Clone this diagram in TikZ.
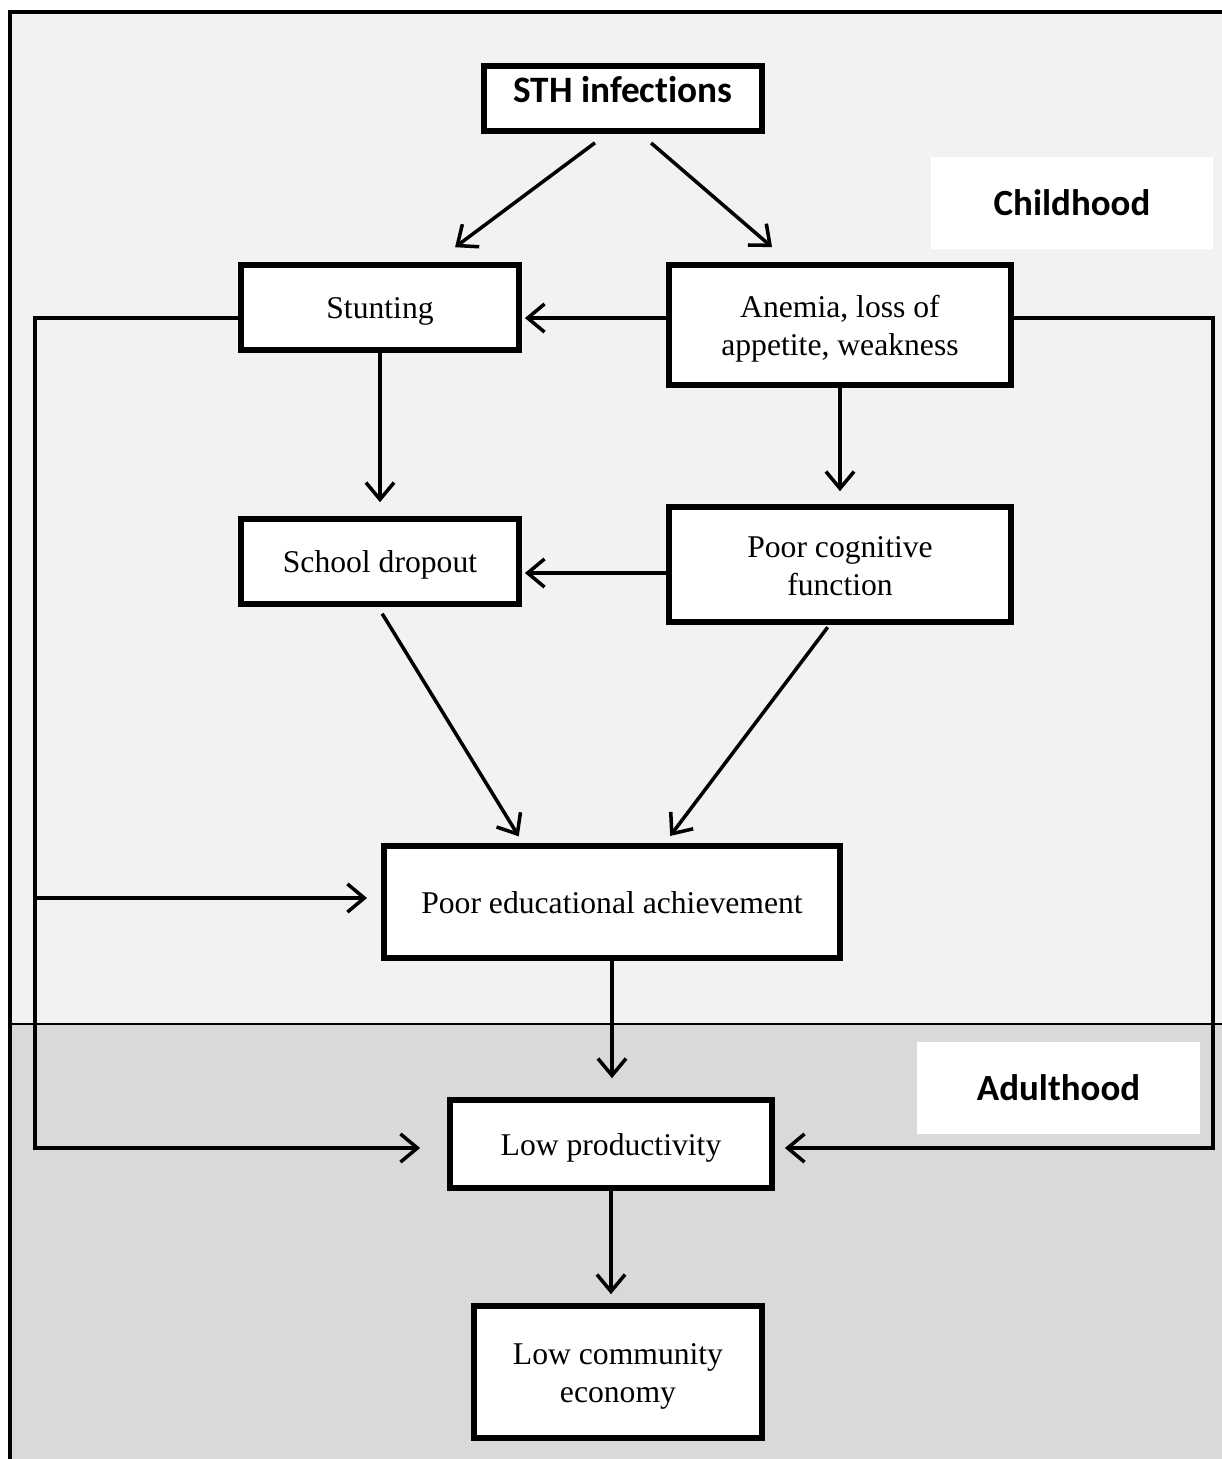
\documentclass[tikz,border=0pt]{standalone}
\usepackage{fontspec}
\setmainfont{Liberation Serif}
\newfontfamily\labelfont[Ligatures=NoCommon]{Carlito}
\usetikzlibrary{arrows.meta}
\definecolor{childgray}{HTML}{F2F2F2}
\definecolor{adultgray}{HTML}{D9D9D9}

\begin{document}
\begin{tikzpicture}[x=0.01cm,y=-0.01cm,
	box/.style={draw,line width=1.6pt,fill=white,align=center,inner sep=0pt,font=\fontsize{9}{10.8}\selectfont,text height=8pt,text depth=1.5pt},
	twoline/.style={text height=19.5pt,text depth=2pt},
	stage/.style={fill=white,inner sep=0pt,minimum width=2.82cm,minimum height=0.92cm,font=\labelfont\bfseries\fontsize{10.5}{12}\selectfont},
	arr/.style={line width=1pt,-{Straight Barb[length=4.8pt,width=8pt]}}]
	\useasboundingbox (0,0) rectangle (1222,1459);
	\fill[childgray] (10,12) rectangle (1240,1024); % childhood band
	\fill[adultgray] (10,1024) rectangle (1240,1480); % adulthood band
	\draw[line width=0.6pt] (10,1024) -- (1240,1024);
	\draw[line width=0.9pt] (10,1480) -- (10,12) -- (1240,12); %frame
	\node[stage] (child) at (1072,203) {Childhood};
	\node[stage] (adult) at (1058.5,1088) {Adulthood};
	\node[box,font=\labelfont\bfseries\fontsize{10.6}{12}\selectfont,text height=4.9pt,text depth=2.4pt,minimum width=2.78cm,minimum height=0.65cm] (sth) at (623,98.5) {STH infections};
	\node[box,minimum width=2.78cm,minimum height=0.85cm] (stunt) at (380,307.5) {Stunting};
	\node[box,twoline,minimum width=3.42cm,minimum height=1.2cm] (anemia) at (840,325) {Anemia, loss of\\appetite, weakness};
	\node[box,minimum width=2.78cm,minimum height=0.85cm] (drop) at (380,561.5) {School dropout};
	\node[box,twoline,minimum width=3.42cm,minimum height=1.15cm] (cogn) at (840,564.5) {Poor cognitive\\function};
	\node[box,minimum width=4.56cm,minimum height=1.12cm] (edu) at (612,902) {Poor educational achievement};
	\node[box,minimum width=3.22cm,minimum height=0.88cm] (prod) at (611,1144) {Low productivity};
	\node[box,twoline,minimum width=2.88cm,minimum height=1.32cm] (econ) at (618,1372) {Low community\\economy};
	\coordinate (row1) at (0,318);
	\coordinate (row2) at (0,573);
	\coordinate (lbranch) at (35,898);
	\coordinate (lbot) at (35,1148);
	\coordinate (rbot) at (1213,1148);
	\draw[arr,shorten <=0.15cm,shorten >=0.25cm] ([xshift=-0.16cm]sth.south) -- ([xshift=0.55cm]stunt.north);
	\draw[arr,shorten <=0.14cm,shorten >=0.23cm] ([xshift=0.175cm]sth.south) -- ([xshift=-0.505cm]anemia.north);
	\draw[arr,shorten >=0.03cm] (anemia.west |- row1) -- (stunt.east |- row1);
	\draw[arr,shorten >=0.14cm] (stunt.south) -- (drop.north);
	\draw[arr,shorten >=0.13cm] (anemia.south) -- (cogn.north);
	\draw[arr,shorten >=0.03cm] (cogn.west |- row2) -- (drop.east |- row2);
	\draw[arr,shorten <=0.08cm,shorten >=0.08cm] ([xshift=-0.02cm]drop.south) -- ([xshift=-0.89cm]edu.north);
	\draw[arr,shorten <=0.03cm,shorten >=0.09cm] ([xshift=-0.105cm]cogn.south) -- ([xshift=0.527cm]edu.north);
	\draw[arr,shorten >=0.19cm] (edu.south) -- (edu.south |- prod.north);
	\draw[arr,shorten >=0.09cm] (prod.south) -- (prod.south |- econ.north);
	\draw[arr,shorten >=0.27cm] (stunt.west |- row1) -| (lbot) -- (prod.west |- lbot); % left loop
	\draw[arr,shorten >=0.14cm] (lbranch) -- (edu.west |- lbranch);
	\draw[arr,shorten >=0.1cm] (anemia.east |- row1) -| (rbot) -- (prod.east |- rbot); % right loop
\end{tikzpicture}
\end{document}
